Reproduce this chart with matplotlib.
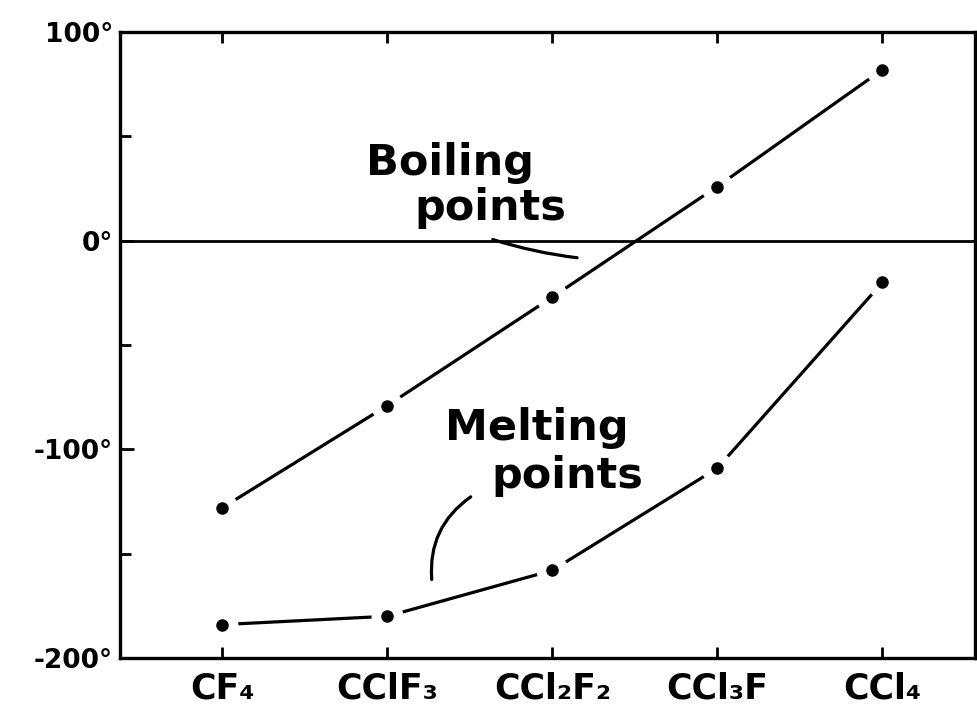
import matplotlib.pyplot as plt
import numpy as np

compounds = ['CF₄', 'CClF₃', 'CCl₂F₂', 'CCl₃F', 'CCl₄']
boiling = [-128, -79, -27, 26, 82]
melting = [-184, -180, -158, -109, -20]
yticks = [100, 0, -100, -200]
ylabels = ['100°', '0°', '-100°', '-200°']

plt.rcParams['font.family'] = ['DejaVu Sans']
plt.rcParams['font.weight'] = 'bold'

fig = plt.figure(figsize=(9.78, 7.26), dpi=100)
ax = fig.add_axes([0.1227, 0.0937, 0.874, 0.862])

x = np.arange(len(compounds))
for vals in [boiling, melting]:
  ax.plot(x, vals, color='black', lw=2.3, zorder=2)
  # white halo so the lines stop short of the dots, like the drawing
  ax.plot(x, vals, 'o', color='white', ms=22, zorder=3)
  ax.plot(x, vals, 'o', color='black', ms=8, zorder=4)

ax.axhline(0, color='black', lw=2.0, zorder=1)

ax.set_xlim(-0.62, 4.56)
ax.set_ylim(-200, 100)
for s in ax.spines.values():
  s.set_linewidth(2.4)

ax.set_xticks(x)
ax.set_xticklabels(compounds, fontsize=25)
ax.set_yticks(yticks)
ax.set_yticklabels(ylabels, fontsize=19)
ax.set_yticks([50, -50, -150], minor=True)
ax.tick_params(axis='x', direction='in', length=8, width=2, top=True, pad=10)
ax.tick_params(axis='y', which='major', direction='in', length=10, width=2, pad=5)
ax.tick_params(axis='y', which='minor', direction='in', length=8, width=2)

ax.text(0.386, 0.791, 'Boiling', transform=ax.transAxes, fontsize=31,
        ha='center', va='center')
ax.text(0.433, 0.719, 'points', transform=ax.transAxes, fontsize=31,
        ha='center', va='center')
ax.text(0.488, 0.367, 'Melting', transform=ax.transAxes, fontsize=31,
        ha='center', va='center')
ax.text(0.523, 0.291, 'points', transform=ax.transAxes, fontsize=31,
        ha='center', va='center')

ax.annotate('', xy=(0.538, 0.639), xytext=(0.433, 0.670), xycoords='axes fraction',
            arrowprops=dict(arrowstyle='-', lw=2.3, color='black',
                            connectionstyle='arc3,rad=0.05'))
ax.annotate('', xy=(0.365, 0.121), xytext=(0.413, 0.260), xycoords='axes fraction',
            arrowprops=dict(arrowstyle='-', lw=2.3, color='black',
                            connectionstyle='arc3,rad=0.3'))

fig.savefig('out.png', dpi=100)
